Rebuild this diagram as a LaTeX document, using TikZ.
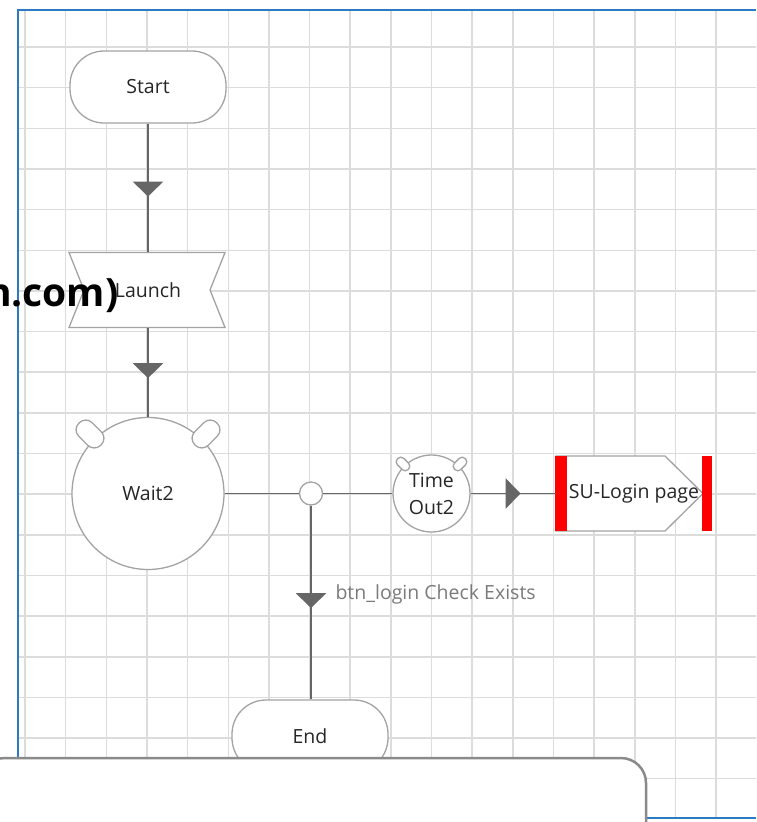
\documentclass[tikz,border=0pt]{standalone}
\usepackage{fontspec}
\setmainfont{Open Sans}
\usepackage{xcolor}
\usetikzlibrary{arrows.meta,calc,positioning,decorations.markings}

\definecolor{gridgrey}{HTML}{DCDCDC}
\definecolor{shapegrey}{HTML}{A3A3A3}
\definecolor{wiregrey}{HTML}{666666}
\definecolor{frameblue}{HTML}{2B7BC4}
\definecolor{labelgrey}{HTML}{7A7A7A}
\definecolor{panelgrey}{HTML}{8A8A8A}

\tikzset{
    gridline/.style={draw=gridgrey, line width=1.5pt},
    frameline/.style={draw=frameblue, line width=2pt},
    shapeline/.style={draw=shapegrey, line width=1.3pt, fill=white},
    terminal/.style={shapeline, rectangle, rounded corners=34pt, minimum width=156pt, minimum height=72pt},
    roundbox/.style={shapeline, circle, inner sep=0pt},
    ear/.style={shapeline, rectangle, inner sep=0pt},
    textonly/.style={rectangle, inner sep=0pt},
    connector/.style={draw=wiregrey, line width=1.6pt},
    flowarrow/.style={postaction={decorate},
        decoration={markings, mark=at position #1 with {\arrow[wiregrey]{Triangle[width=30pt,length=15pt]}}}}
}

\begin{document}
\begin{tikzpicture}[x=1pt, y=-1pt, font=\fontsize{19.5}{23}\selectfont, text=black!85]
    \useasboundingbox (0,0) rectangle (756,822);
    \clip (0,0) rectangle (756,822);

    % Grid and frame
    \foreach \gx in {0,...,18}
        \draw[gridline] (25+40.65*\gx,10) -- (25+40.65*\gx,818);
    \foreach \gy in {0,...,18}
        \draw[gridline] (18,47+40.65*\gy) -- (756,47+40.65*\gy);
    \draw[frameline] (18,830) -- (18,9.5) -- (756,9.5);
    \draw[frameline] (18,818) -- (756,818);

    % Outlines drawn directly
    \draw[shapeline] (69,252.5) -- (225,252.5) -- (210,290) -- (225,327.5) -- (69,327.5) -- (84,290) -- cycle;
    \draw[shapeline] (556,456) -- (665,456) -- (703,493.5) -- (665,531) -- (556,531) -- cycle;
    \fill[red] (555,456) rectangle (567,531); % left bar
    \fill[red] (702,456) rectangle (712,531); % right bar

    % Nodes
    \node[terminal] (start) at (148,87) {Start};
    \node[textonly, minimum width=156pt, minimum height=75pt] (launch) at (148,290) {Launch};
    \node[roundbox, minimum size=152pt] (wait2) at (148,493.5) {Wait2};
    \node[ear, rounded corners=9pt, minimum width=31pt, minimum height=19pt, rotate=-45] (w2earl) at (90,434) {};
    \node[ear, rounded corners=9pt, minimum width=31pt, minimum height=19pt, rotate=45] (w2earr) at (206,434) {};
    \node[roundbox, minimum size=23pt] (junc) at (311,493.5) {};
    \node[roundbox, minimum size=77pt, align=center, font=\fontsize{19.5}{27}\selectfont] (timeout) at (431.5,493.5) {Time\\Out2};
    \node[ear, rounded corners=4pt, minimum width=15pt, minimum height=9pt, rotate=-45] (toearl) at (403,464) {};
    \node[ear, rounded corners=4pt, minimum width=15pt, minimum height=9pt, rotate=45] (toearr) at (460,464) {};
    \node[textonly, minimum width=156pt, minimum height=75pt] (sulogin) at (634,493.5) {SU-Login page};
    \node[terminal] (endn) at (310,736) {End};

    % Connections
    \draw[connector, flowarrow=73pt] (start) -- (launch);
    \draw[connector, flowarrow=50.5pt] (launch) -- (wait2);
    \draw[connector] (wait2) -- (junc);
    \draw[connector] (junc) -- (timeout);
    \draw[connector, flowarrow=50pt] (timeout) -- (sulogin);
    \draw[connector, flowarrow=102.5pt] (junc) -- (junc |- endn.north);
    \node[anchor=west, text=labelgrey] (chklbl) at (332,594) {btn\_login Check Exists};

    % Overlay text and panel
    \node[anchor=base east, font=\fontsize{39}{44}\selectfont\bfseries, text=black] (urltxt) at (122,306) {n.com)};
    \draw[draw=panelgrey, line width=2.5pt, fill=white, rounded corners=25pt] (-20,758) rectangle (646,860);
\end{tikzpicture}
\end{document}
